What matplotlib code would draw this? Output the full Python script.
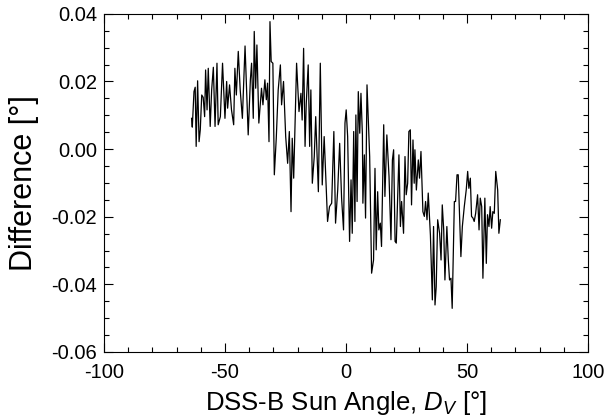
import numpy as np
import matplotlib.pyplot as plt
from matplotlib.ticker import MultipleLocator, FormatStrFormatter

plt.rcParams['font.family'] = ['Liberation Sans', 'DejaVu Sans']
plt.rcParams['mathtext.fontset'] = 'custom'
plt.rcParams['mathtext.rm'] = 'Liberation Sans'
plt.rcParams['mathtext.it'] = 'Liberation Sans:italic'
plt.rcParams['axes.unicode_minus'] = False

# sun angle (deg) and difference (deg)
angle = [-63.8, -63.5, -62.8, -62.3, -61.9, -61.3, -60.7, -60.2, -59.6, -59.0,
         -58.4, -58.0, -57.4, -56.9, -56.1, -55.5, -54.8, -54.1, -53.3, -52.8,
         -51.9, -51.0, -50.0, -49.3, -48.9, -48.1, -47.3, -46.4, -45.9, -45.3,
         -44.5, -43.7, -42.8, -41.7, -40.4, -39.5, -39.0, -38.3, -37.9, -37.3,
         -36.8, -36.0, -34.9, -34.3, -33.5, -32.9, -32.4, -31.8, -31.4, -30.9,
         -30.2, -29.6, -28.8, -28.0, -27.1, -26.6, -25.8, -24.9, -24.1, -23.4,
         -22.7, -22.2, -21.6, -20.4, -19.4, -18.6, -18.1, -17.5, -16.9, -16.4,
         -15.6, -15.0, -14.5, -13.9, -13.1, -12.5, -11.4, -10.6, -9.8, -9.0,
         -8.4, -7.6, -6.8, -5.9, -5.0, -4.3, -3.4, -2.6, -1.8, -1.0,
         -0.4, 0.1, 0.7, 1.5, 2.1, 2.6, 3.2, 3.7, 4.1, 4.6,
         5.1, 5.7, 6.2, 6.8, 7.0, 7.6, 8.1, 8.7, 9.8, 10.6,
         11.4, 12.0, 12.5, 13.1, 13.6, 14.2, 14.7, 15.6, 16.1, 16.9,
         17.8, 18.6, 19.2, 19.7, 20.3, 20.8, 21.9, 22.5, 23.0, 23.8,
         24.4, 24.9, 25.5, 26.0, 26.6, 27.1, 27.7, 28.2, 28.5, 29.1,
         29.9, 30.4, 31.0, 31.8, 32.4, 32.9, 33.5, 34.0, 34.9, 35.7,
         36.2, 36.8, 37.3, 37.9, 38.7, 39.3, 39.8, 40.4, 40.9, 41.7,
         42.3, 42.8, 43.4, 43.9, 44.5, 44.8, 45.3, 45.9, 46.4, 47.0,
         47.5, 48.1, 48.9, 49.7, 50.3, 50.8, 51.4, 51.9, 52.5, 53.0,
         53.6, 54.4, 55.0, 55.5, 56.1, 56.6, 57.4, 58.0, 58.5, 59.1,
         59.6, 60.2, 60.7, 61.3, 61.9, 62.7, 63.2, 63.8]
diff = [0.0091, 0.0065, 0.0170, 0.0183, 0.0008, 0.0202, 0.0022, 0.0057, 0.0160, 0.0153,
        0.0096, 0.0234, 0.0116, 0.0239, 0.0067, 0.0175, 0.0242, 0.0067, 0.0254, 0.0072,
        0.0096, 0.0254, 0.0091, 0.0200, 0.0121, 0.0190, 0.0116, 0.0072, 0.0239, 0.0160,
        0.0289, 0.0175, 0.0091, 0.0305, 0.0042, 0.0205, 0.0254, 0.0091, 0.0348, 0.0180,
        0.0308, 0.0077, 0.0180, 0.0131, 0.0205, 0.0146, 0.0195, 0.0022, 0.0377, 0.0259,
        0.0254, -0.0076, 0.0032, 0.0175, 0.0249, 0.0131, 0.0200, 0.0037, -0.0042, 0.0052,
        -0.0185, 0.0032, -0.0086, 0.0254, 0.0111, 0.0165, 0.0086, 0.0298, 0.0008, 0.0136,
        0.0249, 0.0008, 0.0175, -0.0101, -0.0022, 0.0096, -0.0126, 0.0254, -0.0106, 0.0037,
        -0.0071, -0.0214, -0.0170, -0.0160, 0.0052, -0.0219, -0.0120, 0.0017, -0.0145, -0.0239,
        0.0077, 0.0116, 0.0037, -0.0273, -0.0091, -0.0249, 0.0052, -0.0214, 0.0101, -0.0155,
        0.0170, 0.0047, 0.0165, 0.0042, -0.0160, -0.0017, -0.0204, 0.0190, -0.0022, -0.0367,
        -0.0328, -0.0057, -0.0298, -0.0126, -0.0239, -0.0219, -0.0288, 0.0072, -0.0140, 0.0042,
        -0.0081, -0.0268, -0.0032, -0.0002, -0.0273, -0.0278, -0.0017, -0.0229, -0.0155, -0.0249,
        -0.0022, -0.0135, -0.0101, 0.0052, 0.0057, -0.0165, 0.0027, -0.0101, -0.0002, -0.0121,
        -0.0032, -0.0086, -0.0007, -0.0185, -0.0199, -0.0155, -0.0209, -0.0130, -0.0254, -0.0446,
        -0.0229, -0.0461, -0.0407, -0.0209, -0.0249, -0.0328, -0.0165, -0.0239, -0.0387, -0.0229,
        -0.0328, -0.0387, -0.0382, -0.0471, -0.0268, -0.0155, -0.0155, -0.0076, -0.0076, -0.0209,
        -0.0318, -0.0229, -0.0170, -0.0121, -0.0066, -0.0116, -0.0086, -0.0199, -0.0204, -0.0214,
        -0.0190, -0.0135, -0.0239, -0.0145, -0.0170, -0.0382, -0.0145, -0.0338, -0.0194, -0.0229,
        -0.0170, -0.0234, -0.0185, -0.0190, -0.0066, -0.0121, -0.0249, -0.0209]

fig = plt.figure(figsize=(6.08, 4.2), dpi=100)
ax = fig.add_axes([0.171, 0.162, 0.796, 0.805])
ax.plot(angle, diff, color='black', lw=0.9)

ax.set_xlim(-100, 100)
ax.set_ylim(-0.06, 0.04)
ax.xaxis.set_major_locator(MultipleLocator(50))
ax.xaxis.set_minor_locator(MultipleLocator(10))
ax.yaxis.set_major_locator(MultipleLocator(0.02))
ax.yaxis.set_minor_locator(MultipleLocator(0.005))
ax.yaxis.set_major_formatter(FormatStrFormatter('%.2f'))
ax.tick_params(which='both', direction='in', top=True, right=True, width=0.8, labelsize=14.5)
ax.tick_params(which='major', length=6.5)
ax.tick_params(which='minor', length=3.5)
ax.tick_params(axis='x', which='major', pad=8)
ax.tick_params(axis='y', which='major', pad=5)
for s in ax.spines.values():
    s.set_linewidth(0.8)

ax.set_xlabel(r'DSS-B Sun Angle, $D_V$ [°]', fontsize=18.5, labelpad=5)
ax.set_ylabel('Difference [°]', fontsize=22, labelpad=9)

fig.savefig('out.png', dpi=100)
